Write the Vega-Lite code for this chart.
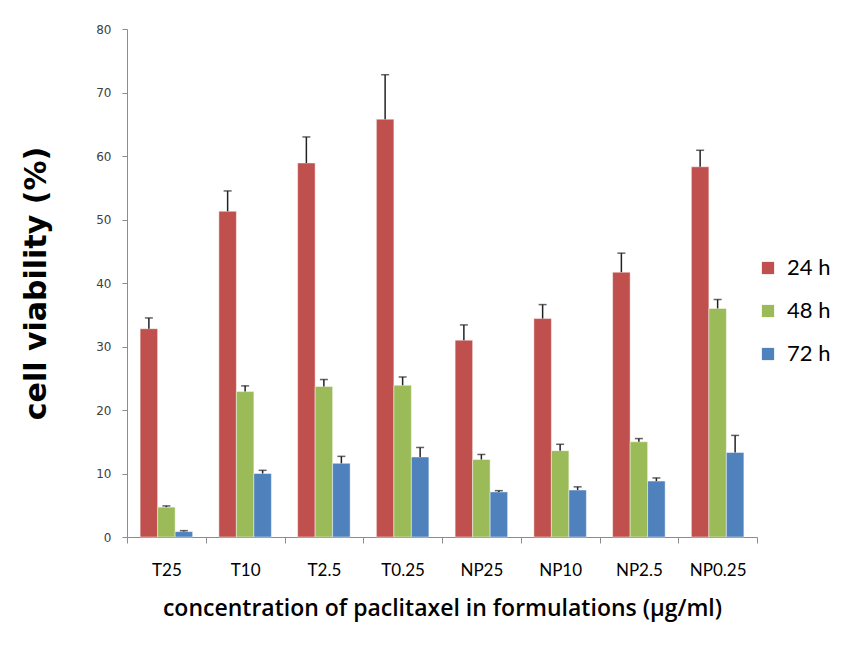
{
  "$schema": "https://vega.github.io/schema/vega-lite/v6.json",
  "autosize": {"type": "none"},
  "width": 630,
  "height": 508,
  "padding": {"left": 127, "top": 29, "right": 105, "bottom": 108},
  "background": "white",
  "config": {
    "view": {"stroke": null},
    "axis": {"grid": false, "domainColor": "#8c8c8c", "tickColor": "#8c8c8c"}
  },
  "data": {
    "values": [
      {"formulation": "T25", "time": "24 h", "viability": 32.8, "upper": 34.5},
      {"formulation": "T25", "time": "48 h", "viability": 4.7, "upper": 4.9},
      {"formulation": "T25", "time": "72 h", "viability": 0.85, "upper": 1.0},
      {"formulation": "T10", "time": "24 h", "viability": 51.3, "upper": 54.5},
      {"formulation": "T10", "time": "48 h", "viability": 22.9, "upper": 23.8},
      {"formulation": "T10", "time": "72 h", "viability": 10.0, "upper": 10.5},
      {"formulation": "T2.5", "time": "24 h", "viability": 58.9, "upper": 63.0},
      {"formulation": "T2.5", "time": "48 h", "viability": 23.7, "upper": 24.8},
      {"formulation": "T2.5", "time": "72 h", "viability": 11.6, "upper": 12.7},
      {"formulation": "T0.25", "time": "24 h", "viability": 65.8, "upper": 72.8},
      {"formulation": "T0.25", "time": "48 h", "viability": 23.9, "upper": 25.2},
      {"formulation": "T0.25", "time": "72 h", "viability": 12.6, "upper": 14.1},
      {"formulation": "NP25", "time": "24 h", "viability": 31.0, "upper": 33.4},
      {"formulation": "NP25", "time": "48 h", "viability": 12.2, "upper": 13.0},
      {"formulation": "NP25", "time": "72 h", "viability": 7.1, "upper": 7.3},
      {"formulation": "NP10", "time": "24 h", "viability": 34.4, "upper": 36.6},
      {"formulation": "NP10", "time": "48 h", "viability": 13.6, "upper": 14.6},
      {"formulation": "NP10", "time": "72 h", "viability": 7.4, "upper": 7.9},
      {"formulation": "NP2.5", "time": "24 h", "viability": 41.7, "upper": 44.7},
      {"formulation": "NP2.5", "time": "48 h", "viability": 15.0, "upper": 15.5},
      {"formulation": "NP2.5", "time": "72 h", "viability": 8.8, "upper": 9.3},
      {"formulation": "NP0.25", "time": "24 h", "viability": 58.3, "upper": 60.9},
      {"formulation": "NP0.25", "time": "48 h", "viability": 36.0, "upper": 37.4},
      {"formulation": "NP0.25", "time": "72 h", "viability": 13.3, "upper": 16.0}
    ]
  },
  "encoding": {
    "x": {
      "field": "formulation",
      "type": "nominal",
      "sort": ["T25", "T10", "T2.5", "T0.25", "NP25", "NP10", "NP2.5", "NP0.25"],
      "scale": {"paddingInner": 0, "paddingOuter": 0},
      "axis": {
        "title": "concentration of paclitaxel in formulations (µg/ml)",
        "titleFont": "Open Sans",
        "titleFontSize": 23,
        "titleFontWeight": 600,
        "titleColor": "#000000",
        "titlePadding": 19,
        "labelAngle": 0,
        "labelFont": "Lato",
        "labelFontSize": 17,
        "labelColor": "#000000",
        "labelPadding": 19,
        "tickBand": "extent",
        "tickSize": 6
      }
    },
    "xOffset": {
      "field": "time",
      "type": "nominal",
      "scale": {"paddingInner": 0, "paddingOuter": 0.75}
    }
  },
  "layer": [
    {
      "mark": {"type": "bar", "stroke": "#ffffff", "strokeOpacity": 0.45, "strokeWidth": 1},
      "encoding": {
        "y": {
          "field": "viability",
          "type": "quantitative",
          "scale": {"domain": [0, 80], "nice": false},
          "axis": {
            "title": "cell viability (%)",
            "titleFont": "DejaVu Sans",
            "titleFontSize": 30,
            "titleFontWeight": "bold",
            "titleColor": "#000000",
            "titlePadding": 44,
            "values": [0, 10, 20, 30, 40, 50, 60, 70, 80],
            "labelFont": "DejaVu Sans",
            "labelFontSize": 12,
            "labelColor": "#404040",
            "labelPadding": 11,
            "tickSize": 5
          }
        },
        "color": {
          "field": "time",
          "type": "nominal",
          "scale": {"domain": ["24 h", "48 h", "72 h"], "range": ["#C0504D", "#9BBB59", "#4F81BD"]},
          "legend": {
            "title": null,
            "orient": "none",
            "legendX": 630,
            "legendY": 228,
            "symbolType": "square",
            "symbolSize": 150,
            "symbolStrokeWidth": 0,
            "labelFont": "Lato",
            "labelFontSize": 22,
            "labelColor": "#000000",
            "rowPadding": 21,
            "labelOffset": 8
          }
        }
      }
    },
    {
      "mark": {"type": "rule", "color": "#222222", "strokeWidth": 1.5},
      "encoding": {
        "y": {"field": "viability", "type": "quantitative"},
        "y2": {"field": "upper"}
      }
    },
    {
      "mark": {"type": "tick", "color": "#222222", "thickness": 1.5, "size": 8, "orient": "horizontal"},
      "encoding": {
        "y": {"field": "upper", "type": "quantitative"}
      }
    }
  ]
}
